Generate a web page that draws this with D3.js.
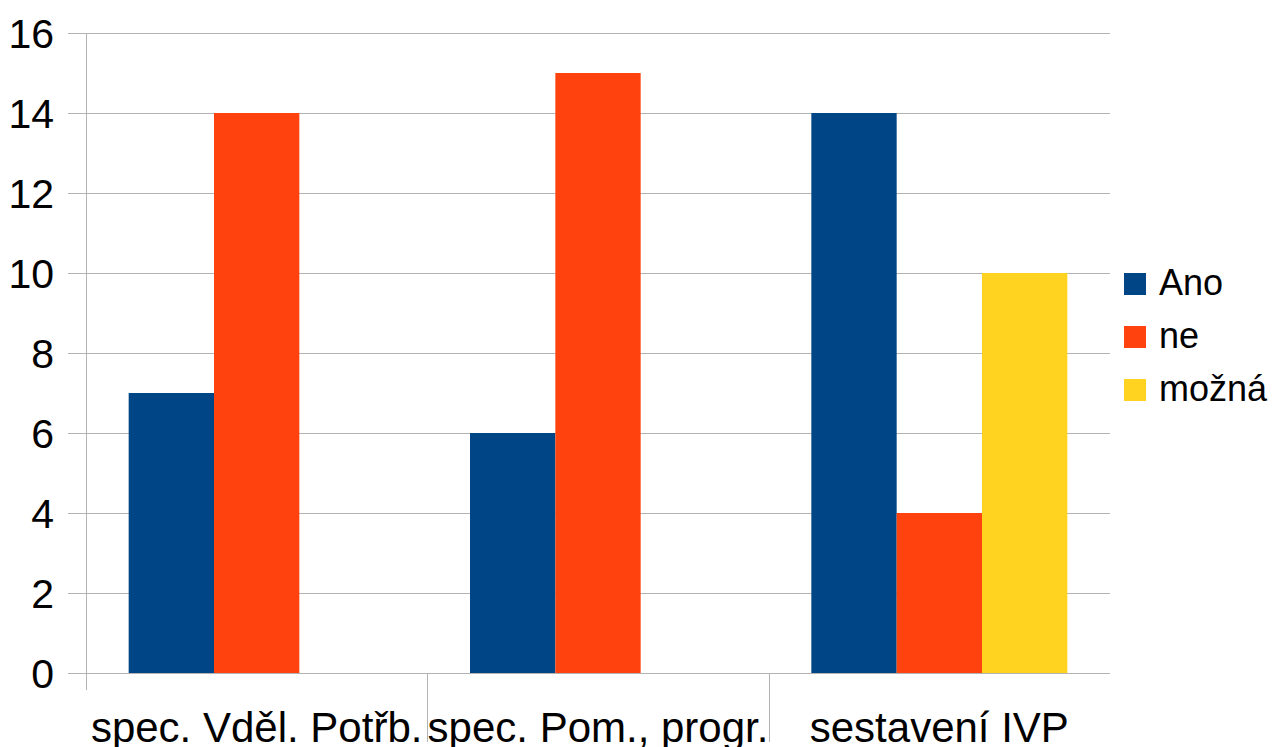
<!DOCTYPE html>
<html>
<head>
<meta charset="utf-8">
<script src="https://cdn.jsdelivr.net/npm/d3@7"></script>
<style>
  html, body { margin: 0; padding: 0; background: #fff; }
  svg { display: block; }
  text { font-family: "Liberation Sans", Arial, sans-serif; fill: #000; }
</style>
</head>
<body>
<svg id="chart" width="1272" height="747"></svg>
<script>
const categories = ["spec. Vděl. Potřb.", "spec. Pom., progr.", "sestavení IVP"];
const seriesNames = ["Ano", "ne", "možná"];
const seriesColors = ["#004586", "#ff420e", "#ffd320"];
const ano = [7, 6, 14];
const ne = [14, 15, 4];
const mozna = [0, 0, 10];
const yTicks = [0, 2, 4, 6, 8, 10, 12, 14, 16];

const seriesValues = [ano, ne, mozna];

const svg = d3.select("#chart");
const plot = { left: 86, right: 1110, top: 33, bottom: 673 };

const x0 = d3.scaleBand().domain(categories).range([plot.left, plot.right]).paddingInner(0).paddingOuter(0);
const x1 = d3.scaleBand().domain(seriesNames).range([0, x0.bandwidth()]).paddingInner(0).paddingOuter(0.5);
const y = d3.scaleLinear().domain([0, 16]).range([plot.bottom, plot.top]);

const gridColor = "#b3b3b3";

// horizontal gridlines
svg.append("g").selectAll("line").data(yTicks).join("line")
  .attr("x1", 68).attr("x2", plot.right)
  .attr("y1", d => Math.round(y(d)) + 0.5).attr("y2", d => Math.round(y(d)) + 0.5)
  .attr("stroke", gridColor).attr("stroke-width", 1);

// vertical axis line
svg.append("line")
  .attr("x1", plot.left + 0.5).attr("x2", plot.left + 0.5)
  .attr("y1", plot.top).attr("y2", 690)
  .attr("stroke", gridColor);

// category separators below the axis
const seps = categories.map(c => x0(c));
svg.append("g").selectAll("line").data(seps.slice(1)).join("line")
  .attr("x1", d => Math.round(d) + 0.5).attr("x2", d => Math.round(d) + 0.5)
  .attr("y1", plot.bottom).attr("y2", 742)
  .attr("stroke", gridColor);

// y tick labels
svg.append("g").selectAll("text").data(yTicks).join("text")
  .attr("x", 54).attr("y", d => y(d))
  .attr("dy", "0.36em")
  .attr("text-anchor", "end")
  .attr("font-size", 41)
  .text(d => d);

// bars
const groups = svg.append("g").selectAll("g").data(categories).join("g")
  .attr("transform", c => `translate(${x0(c)},0)`);
groups.selectAll("rect")
  .data((c, i) => seriesNames.map((s, k) => ({ s, k, v: seriesValues[k][i] })))
  .join("rect")
  .attr("x", d => x1(d.s))
  .attr("width", x1.bandwidth())
  .attr("y", d => y(d.v))
  .attr("height", d => y(0) - y(d.v))
  .attr("fill", d => seriesColors[d.k]);

// category labels
svg.append("g").selectAll("text").data(categories).join("text")
  .attr("x", c => x0(c) + x0.bandwidth() / 2)
  .attr("y", 742)
  .attr("text-anchor", "middle")
  .attr("font-size", 42)
  .text(c => c);

// legend
const legend = svg.append("g").selectAll("g").data(seriesNames).join("g")
  .attr("transform", (d, i) => `translate(1124,${284 + i * 53})`);
legend.append("rect")
  .attr("x", 0).attr("y", -11).attr("width", 22).attr("height", 22)
  .attr("fill", (d, i) => seriesColors[i]);
legend.append("text")
  .attr("x", 35).attr("y", 11)
  .attr("font-size", 36)
  .text(d => d);
</script>
</body>
</html>
